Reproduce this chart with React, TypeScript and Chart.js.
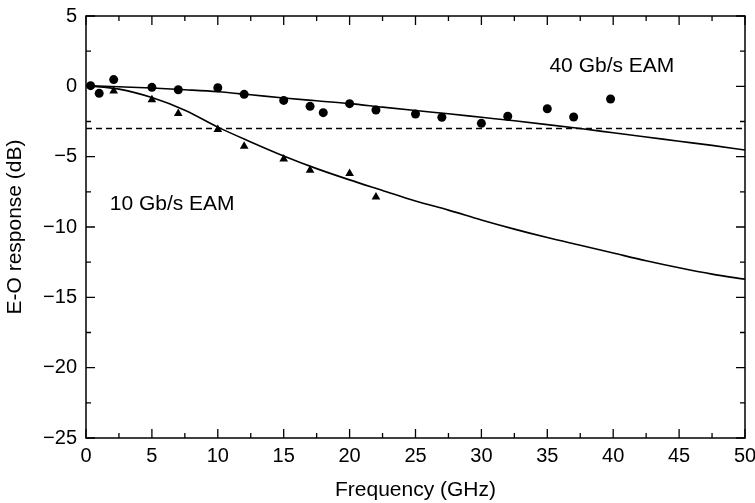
import React, { useEffect, useRef } from "react";
import { Chart, registerables } from "chart.js";

Chart.register(...registerables);

// 40 Gb/s EAM measured points (circles)
const eam40X = [0.35, 1.0, 2.1, 5.0, 7.0, 10.0, 12.0, 15.0, 17.0, 18.0, 20.0, 22.0, 25.0, 27.0, 30.0, 32.0, 35.0, 37.0, 39.8];
const eam40Y = [0.05, -0.5, 0.48, -0.07, -0.24, -0.1, -0.57, -1.0, -1.42, -1.87, -1.23, -1.68, -1.97, -2.2, -2.63, -2.13, -1.59, -2.18, -0.9];

// 10 Gb/s EAM measured points (triangles)
const eam10X = [2.1, 5.0, 7.0, 10.0, 12.0, 15.0, 17.0, 20.0, 22.0];
const eam10Y = [-0.33, -0.95, -1.94, -3.06, -4.26, -5.17, -5.97, -6.2, -7.87];

// Fitted curves
const fitX = [0, 2.5, 5, 7.5, 10, 12.5, 15, 17.5, 20, 22.5, 25, 27.5, 30, 32.5, 35, 37.5, 40, 42.5, 45, 47.5, 50];
const fit40Y = [0.05, -0.03, -0.12, -0.24, -0.38, -0.6, -0.83, -1.03, -1.23, -1.48, -1.72, -1.95, -2.2, -2.45, -2.72, -3.0, -3.3, -3.6, -3.9, -4.2, -4.53];
const fit10Y = [0.05, -0.2, -0.8, -1.7, -2.9, -3.95, -4.95, -5.85, -6.65, -7.4, -8.15, -8.8, -9.5, -10.15, -10.75, -11.3, -11.85, -12.4, -12.9, -13.35, -13.72];

// -3 dB reference line
const refX = [0, 50];
const refY = [-3, -3];

const xTicks = [0, 5, 10, 15, 20, 25, 30, 35, 40, 45, 50];
const yTicks = [-25, -20, -15, -10, -5, 0, 5];

const labels = [
  { text: "40 Gb/s EAM", x: 39.9, y: 1.45, align: "center" },
  { text: "10 Gb/s EAM", x: 1.8, y: -8.4, align: "left" },
];

const FONT = "'Liberation Sans', Arial, Helvetica, sans-serif";

const zip = (xs: number[], ys: number[]) => xs.map((x, i) => ({ x, y: ys[i] }));

const framePlugin = {
  id: "frameTicks",
  afterDraw(chart: any) {
    const { ctx, chartArea, scales } = chart;
    const xs = scales.x;
    const ys = scales.y;
    const { left, right, top, bottom } = chartArea;
    ctx.save();
    ctx.strokeStyle = "#000";
    ctx.lineWidth = 1.5;
    ctx.strokeRect(left, top, right - left, bottom - top);
    ctx.lineWidth = 1.3;
    ctx.beginPath();
    for (let v = 0; v <= 50; v += 2.5) {
      const p = xs.getPixelForValue(v);
      const len = v % 5 === 0 ? 9 : 5;
      ctx.moveTo(p, bottom);
      ctx.lineTo(p, bottom - len);
      ctx.moveTo(p, top);
      ctx.lineTo(p, top + len);
    }
    for (let v = -25; v <= 5; v += 2.5) {
      const p = ys.getPixelForValue(v);
      const len = v % 5 === 0 ? 9 : 5;
      ctx.moveTo(left, p);
      ctx.lineTo(left + len, p);
      ctx.moveTo(right, p);
      ctx.lineTo(right - len, p);
    }
    ctx.stroke();
    ctx.fillStyle = "#000";
    ctx.font = `21px ${FONT}`;
    ctx.textBaseline = "middle";
    for (const l of labels) {
      ctx.textAlign = l.align as CanvasTextAlign;
      ctx.fillText(l.text, xs.getPixelForValue(l.x), ys.getPixelForValue(l.y));
    }
    ctx.restore();
  },
};

export default function App() {
  const ref = useRef<HTMLCanvasElement | null>(null);
  useEffect(() => {
    if (!ref.current) return;
    const chart = new Chart(ref.current, {
      type: "scatter",
      data: {
        datasets: [
          {
            type: "line",
            data: zip(refX, refY),
            borderColor: "#000",
            borderWidth: 1.4,
            borderDash: [6, 4],
            pointRadius: 0,
            fill: false,
          },
          {
            type: "line",
            data: zip(fitX, fit40Y),
            borderColor: "#000",
            borderWidth: 1.6,
            pointRadius: 0,
            cubicInterpolationMode: "monotone",
            fill: false,
          },
          {
            type: "line",
            data: zip(fitX, fit10Y),
            borderColor: "#000",
            borderWidth: 1.6,
            pointRadius: 0,
            cubicInterpolationMode: "monotone",
            fill: false,
          },
          {
            data: zip(eam40X, eam40Y),
            pointStyle: "circle",
            pointRadius: 4.5,
            backgroundColor: "#000",
            borderColor: "#000",
            borderWidth: 0,
          },
          {
            data: zip(eam10X, eam10Y),
            pointStyle: "triangle",
            pointRadius: 5,
            backgroundColor: "#000",
            borderColor: "#000",
            borderWidth: 0,
          },
        ],
      } as any,
      options: {
        animation: false,
        responsive: false,
        maintainAspectRatio: false,
        layout: { padding: { left: 0, right: 10, top: 16, bottom: 0 } },
        plugins: { legend: { display: false }, tooltip: { enabled: false } },
        scales: {
          x: {
            type: "linear",
            min: 0,
            max: 50,
            grid: { display: false, drawTicks: false },
            border: { display: false },
            afterBuildTicks: (s: any) => {
              s.ticks = xTicks.map((v) => ({ value: v }));
            },
            afterFit: (s: any) => {
              s.height = 65;
              s.paddingLeft = 0;
              s.paddingRight = 0;
            },
            ticks: { color: "#000", font: { family: FONT, size: 20 }, padding: 6, maxRotation: 0 },
            title: {
              display: true,
              text: "Frequency (GHz)",
              color: "#000",
              font: { family: FONT, size: 21 },
              padding: { top: 2, bottom: 0 },
            },
          },
          y: {
            type: "linear",
            min: -25,
            max: 5,
            grid: { display: false, drawTicks: false },
            border: { display: false },
            afterBuildTicks: (s: any) => {
              s.ticks = yTicks.map((v) => ({ value: v }));
            },
            afterFit: (s: any) => {
              s.width = 86;
              s.paddingTop = 0;
              s.paddingBottom = 0;
            },
            ticks: {
              color: "#000",
              font: { family: FONT, size: 20 },
              padding: 9,
              callback: (v: any) => String(v).replace("-", "\u2212"),
            },
            title: {
              display: true,
              text: "E-O response (dB)",
              color: "#000",
              font: { family: FONT, size: 21 },
              padding: { top: 3, bottom: 0 },
            },
          },
        },
      } as any,
      plugins: [framePlugin],
    });
    return () => chart.destroy();
  }, []);
  return (
    <div style={{ position: "fixed", left: 0, top: 0, width: 755, height: 503, background: "#fff" }}>
      <canvas ref={ref} width={755} height={503} style={{ width: 755, height: 503 }} />
    </div>
  );
}
